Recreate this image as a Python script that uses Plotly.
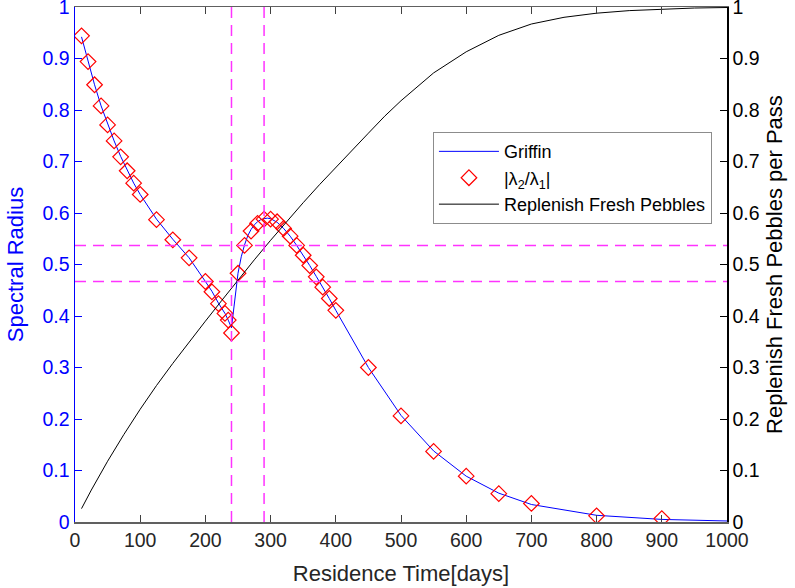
import plotly.graph_objects as go

# ---- data ----
ratio_x = [10, 20, 30, 40, 50, 60, 70, 80, 90, 100, 125, 150, 175, 200, 210, 220, 230, 235, 240,
           250, 260, 270, 280, 290, 300, 310, 320, 330, 340, 350, 360, 370, 380, 390, 400,
           450, 500, 550, 600, 650, 700, 800, 900]
ratio_y = [0.944, 0.894, 0.849, 0.808, 0.771, 0.740, 0.709, 0.682, 0.658, 0.636, 0.587, 0.548, 0.513,
           0.467, 0.447, 0.424, 0.405, 0.392, 0.367,
           0.483, 0.537, 0.565, 0.580, 0.588, 0.588, 0.583, 0.570, 0.555, 0.537, 0.518, 0.498,
           0.476, 0.456, 0.434, 0.411,
           0.300, 0.206, 0.137, 0.089, 0.055, 0.036, 0.012, 0.0066]

griffin_x = [10, 20, 30, 40, 50, 60, 70, 80, 90, 100, 125, 150, 175, 200, 210, 220, 230, 235, 240,
             250, 255, 260, 265, 270, 275, 280, 285, 290, 295, 300, 310, 320, 330, 340, 350, 360,
             370, 380, 390, 400, 450, 500, 550, 600, 650, 700, 800, 900, 1000]
griffin_y = [0.942, 0.893, 0.849, 0.808, 0.772, 0.740, 0.710, 0.683, 0.658, 0.636, 0.588, 0.549, 0.513,
             0.467, 0.448, 0.425, 0.405, 0.392, 0.377,
             0.483, 0.515, 0.538, 0.556, 0.568, 0.577, 0.583, 0.587, 0.589, 0.590, 0.589, 0.582,
             0.570, 0.555, 0.537, 0.518, 0.498, 0.477, 0.456, 0.434, 0.411,
             0.300, 0.207, 0.138, 0.089, 0.056, 0.034, 0.013, 0.005, 0.002]

pebble_x = [10, 25, 50, 75, 100, 125, 150, 175, 200, 225, 250, 275, 300, 325, 350, 375, 400,
            425, 450, 475, 500, 550, 600, 650, 700, 750, 800, 850, 900, 950, 1000]
pebble_y = [0.026, 0.062, 0.118, 0.170, 0.219, 0.265, 0.308, 0.350, 0.390, 0.430, 0.470, 0.509,
            0.547, 0.584, 0.620, 0.655, 0.689, 0.722, 0.755, 0.788, 0.818, 0.872, 0.913, 0.945,
            0.967, 0.980, 0.988, 0.993, 0.996, 0.998, 0.999]

ref_x = [240, 290]
ref_y = [0.467, 0.537]

x_ticks = list(range(0, 1001, 100))
y_ticks = [i / 10 for i in range(11)]
y_ticklabels = ["0", "0.1", "0.2", "0.3", "0.4", "0.5", "0.6", "0.7", "0.8", "0.9", "1"]

FONT = "Liberation Sans, Arial, sans-serif"
BLUE = "#0000FF"
MAG = "#FF33FF"

fig = go.Figure()
fig.add_trace(go.Scatter(x=griffin_x, y=griffin_y, mode="lines", name="Griffin",
                         line=dict(color=BLUE, width=1)))
fig.add_trace(go.Scatter(x=ratio_x, y=ratio_y, mode="markers",
                         name="|λ<sub>2</sub>/λ<sub>1</sub>|",
                         marker=dict(symbol="diamond-open", size=12, color="#FF0000",
                                     line=dict(width=1.2, color="#FF0000"))))
fig.add_trace(go.Scatter(x=pebble_x, y=pebble_y, mode="lines", name="Replenish Fresh Pebbles",
                         line=dict(color="black", width=1), yaxis="y2"))

shapes = []
for xv in ref_x:
    shapes.append(dict(type="line", xref="x", yref="y", x0=xv, x1=xv, y0=0, y1=1,
                       line=dict(color=MAG, width=1.5, dash="11px,7px")))
for yv in ref_y:
    shapes.append(dict(type="line", xref="x", yref="y", x0=0, x1=1000, y0=yv, y1=yv,
                       line=dict(color=MAG, width=1.5, dash="11px,7px")))

fig.update_layout(
    width=795, height=588,
    margin=dict(l=75, r=68, t=7, b=66, autoexpand=False),
    paper_bgcolor="white", plot_bgcolor="white",
    font=dict(family=FONT, size=18, color="#262626"),
    shapes=shapes,
    showlegend=True,
    hovermode=False,
    legend=dict(x=0.549, y=0.757, xanchor="left", yanchor="top",
                bgcolor="white", bordercolor="#8c8c8c", borderwidth=1,
                font=dict(family=FONT, size=18, color="black"),
                itemwidth=60, tracegroupgap=0),
    xaxis=dict(range=[0, 1000], tickvals=x_ticks, showgrid=False, zeroline=False,
               showline=True, linecolor="#606060", linewidth=1.5, mirror="ticks",
               ticks="inside", ticklen=7, tickcolor="#404040", automargin=False,
               ticklabeloverflow="allow",
               tickfont=dict(size=19.5, color="#262626"),
               title=dict(text="Residence Time[days]", font=dict(size=22, color="#262626"),
                          standoff=15)),
    yaxis=dict(range=[0, 1], tickvals=y_ticks, ticktext=y_ticklabels, showgrid=False,
               zeroline=False, showline=True, linecolor=BLUE, linewidth=1.5,
               ticks="inside", ticklen=7, tickcolor=BLUE, automargin=False,
               ticklabeloverflow="allow",
               tickfont=dict(size=19.5, color=BLUE),
               title=dict(text="Spectral Radius", font=dict(size=22, color=BLUE), standoff=13)),
    yaxis2=dict(range=[0, 1], tickvals=y_ticks, ticktext=y_ticklabels, overlaying="y",
                side="right", showgrid=False, zeroline=False, showline=True,
                linecolor="black", linewidth=1.5, ticks="inside", ticklen=7,
                tickcolor="black", automargin=False, ticklabeloverflow="allow",
                tickfont=dict(size=19.5, color="black"),
                title=dict(text="Replenish Fresh Pebbles per Pass",
                           font=dict(size=22, color="black"), standoff=8)),
)

fig.write_html("out.html", config={"displayModeBar": False, "staticPlot": True},
               post_script="document.body.style.margin='0';document.body.style.padding='0';")
